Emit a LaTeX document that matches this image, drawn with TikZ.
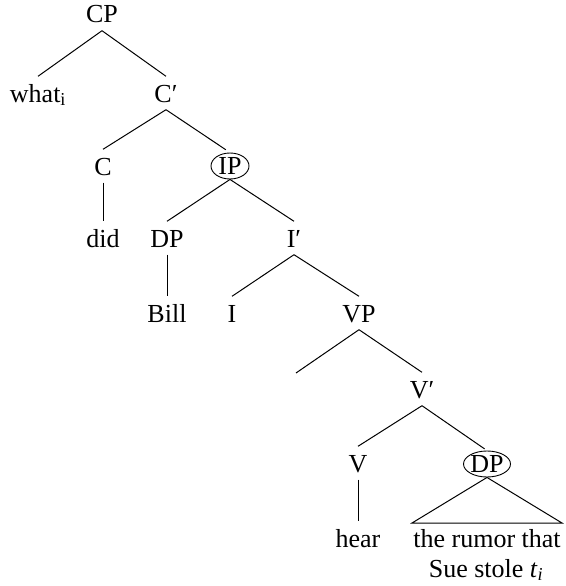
\documentclass[tikz,border=0pt]{standalone}
\usepackage{fontspec}
\setmainfont{Liberation Serif}
\usetikzlibrary{shapes.geometric}
\begin{document}
\begin{tikzpicture}[x=1pt,y={(0pt,-1pt)},
  lab/.style={inner xsep=0pt,inner ysep=7.5pt,text height=18pt,text depth=0pt,anchor=base,font=\fontsize{26}{30}\selectfont},
  circ/.style={ellipse,draw,line width=0.9pt,inner sep=0pt,minimum width=38pt,minimum height=26pt,text height=17pt,text depth=0pt,font=\fontsize{26}{30}\selectfont},
  txt/.style={inner sep=0pt,anchor=base,font=\fontsize{26}{30}\selectfont},
  br/.style={line width=1pt}]
\useasboundingbox (0,0) rectangle (565,586);
\node[lab] (CP) at (102,23) {CP};
\node[lab] (what) at (38,102) {what\textsubscript{i}};
\node[lab] (Cb) at (166,102) {C′};
\node[lab] (C) at (103,175) {C};
\node[circ] (IP) at (230,166) {IP};
\node[lab] (did) at (103,247) {did};
\node[lab] (DP) at (167,247) {DP};
\node[lab] (Ib) at (294,247) {I′};
\node[lab] (Bill) at (167,322) {Bill};
\node[lab] (I) at (232,322) {I};
\node[lab] (VP) at (359,322) {VP};
\coordinate (vpl) at (296,373);
\node[lab] (Vb) at (422,398) {V′};
\node[lab] (V) at (358,472) {V};
\node[circ] (DPb) at (487,464) {DP};
\node[lab] (hear) at (358,547) {hear};
\coordinate (tl) at (412,523);
\coordinate (tr) at (562,523);
\node[txt] (rumor) at (487,547) {the rumor that};
\node[txt] (sue) at (486,577) {Sue stole \textit{t}\textsubscript{\textit{i}}};
\draw[br] (CP.south) -- (what.north);
\draw[br] (CP.south) -- (Cb.north);
\draw[br] (Cb.south) -- (C.north);
\draw[br,shorten >=5pt] (Cb.south) -- (IP.north);
\draw[br] (C.south) -- (did.north);
\draw[br] (IP.south) -- (DP.north);
\draw[br] (IP.south) -- (Ib.north);
\draw[br] (DP.south) -- (Bill.north);
\draw[br] (Ib.south) -- (I.north);
\draw[br] (Ib.south) -- (VP.north);
\draw[br] (VP.south) -- (vpl);
\draw[br] (VP.south) -- (Vb.north);
\draw[br] (Vb.south) -- (V.north);
\draw[br,shorten >=3pt] (Vb.south) -- (DPb.north);
\draw[br] (V.south) -- (hear.north);
\draw[br] (DPb.south) -- (tl) -- (tr) -- cycle;
\end{tikzpicture}
\end{document}
